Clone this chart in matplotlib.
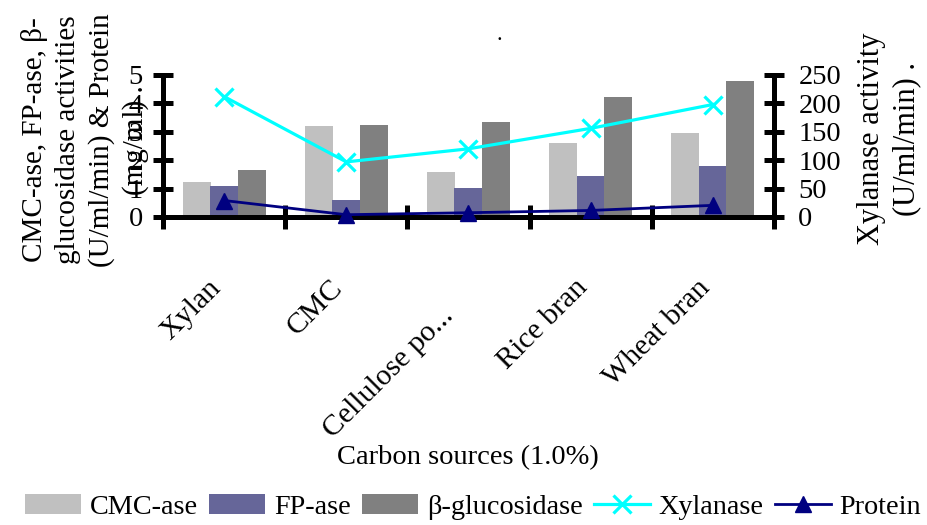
import numpy as np
import matplotlib
matplotlib.use('Agg')
import matplotlib.pyplot as plt
import matplotlib.transforms as mtransforms

plt.rcParams['font.family'] = ['Liberation Serif', 'DejaVu Serif']

# data
categories = ['Xylan', 'CMC', 'Cellulose po...', 'Rice bran', 'Wheat bran']
cmcase = [1.24, 3.20, 1.60, 2.60, 2.97]
fpase = [1.09, 0.59, 1.01, 1.43, 1.79]
bglucosidase = [1.65, 3.23, 3.35, 4.23, 4.78]
xylanase = [212, 97, 120, 156, 198]
protein = [0.58, 0.08, 0.15, 0.23, 0.41]

x = np.arange(len(categories))

fig = plt.figure(figsize=(9.27, 5.25), dpi=100)
ax = fig.add_axes([0.1758, 0.5867, 0.6591, 0.2705])
ax2 = ax.twinx()

w = 0.23
b1 = ax.bar(x - 0.225, cmcase, w, color='#C0C0C0', label='CMC-ase', zorder=2)
b2 = ax.bar(x, fpase, w, color='#666699', label='FP-ase', zorder=2)
b3 = ax.bar(x + 0.225, bglucosidase, w, color='#808080', label='β-glucosidase', zorder=2)
lp, = ax.plot(x, protein, color='#000080', lw=2, marker='^', ms=12,
              label='Protein', zorder=4, clip_on=False)
lx, = ax2.plot(x, xylanase, color='#00FFFF', lw=2.3, marker='x', ms=13,
               mew=2.3, label='Xylanase', zorder=4)

ax.set_xlim(-0.5, 4.5)
ax.set_ylim(0, 5)
ax2.set_ylim(0, 250)
ax.set_yticks(range(0, 6))
ax2.set_yticks(range(0, 251, 50))

# category boundaries as ticks, names on minor ticks
ax.set_xticks(np.arange(-0.5, 5, 1))
ax.set_xticklabels([])
ax.set_xticks(x, minor=True)
ax.set_xticklabels(categories, minor=True, rotation=45, ha='right',
                   rotation_mode='anchor', va='center', fontsize=21.5)
ax.tick_params(axis='x', which='minor', length=0, pad=48)

# small nudges so the labels sit like in the original
for i, lab in enumerate(ax.get_xticklabels(minor=True)):
    dx, dy = -7, 0
    if i == 2:
        dx, dy = -19, -28
    lab.set_transform(lab.get_transform() +
                      mtransforms.ScaledTranslation(dx / 100, dy / 100, fig.dpi_scale_trans))

for a in (ax, ax2):
    for s in a.spines.values():
        s.set_visible(False)
ax.spines['left'].set_visible(True)
ax.spines['bottom'].set_visible(True)
ax2.spines['right'].set_visible(True)
for s in (ax.spines['left'], ax.spines['bottom'], ax2.spines['right']):
    s.set_linewidth(3.6)
    s.set_capstyle('round')

ax.tick_params(axis='x', which='major', direction='inout', length=17, width=3.6)
ax.tick_params(axis='y', direction='inout', length=15, width=3.6, labelsize=20.5, pad=7)
ax2.tick_params(axis='y', direction='inout', length=15, width=3.6, labelsize=20.5, pad=10)

fig.text(0.539, 1 - 35 / 525, '.', ha='center', va='center', fontsize=16)

fig.text(85 / 927, 1 - 140 / 525,
         'CMC-ase, FP-ase, β-\nglucosidase activities\n(U/ml/min) & Protein\n(mg/ml) .',
         rotation=90, ha='center', va='center', multialignment='center',
         fontsize=21, linespacing=1.35)
fig.text(889 / 927, 1 - 139 / 525, 'Xylanase activity\n(U/ml/min) .',
         rotation=90, ha='center', va='center', multialignment='center',
         fontsize=22, linespacing=1.25)
fig.text(468 / 927, 1 - 458 / 525, 'Carbon sources (1.0%)',
         ha='center', va='center', fontsize=20.5)

fig.legend([b1, b2, b3, lx, lp],
           ['CMC-ase', 'FP-ase', 'β-glucosidase', 'Xylanase', 'Protein'],
           loc='center', bbox_to_anchor=(473 / 927, 1 - 507 / 525), ncol=5,
           frameon=False, fontsize=20.3, handlelength=2.0, handletextpad=0.3,
           columnspacing=0.4, borderpad=0, borderaxespad=0)

fig.savefig('out.png', dpi=100)
